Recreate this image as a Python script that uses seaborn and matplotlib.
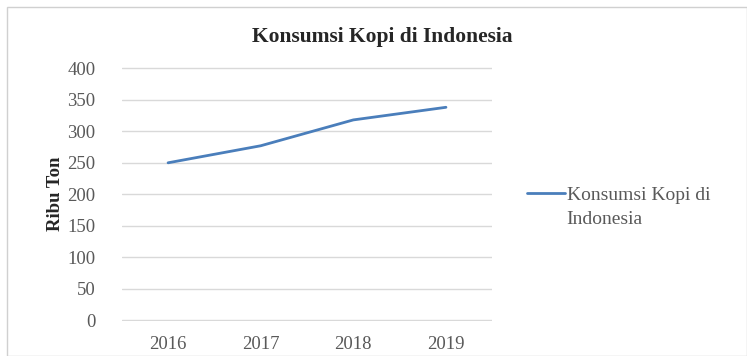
import matplotlib
matplotlib.use("Agg")
import matplotlib.pyplot as plt
import seaborn as sns
import pandas as pd
from matplotlib.patches import Rectangle

years = ["2016", "2017", "2018", "2019"]
values = [250, 277, 318, 338]
series_name = "Konsumsi Kopi di Indonesia"
yticks = [0, 50, 100, 150, 200, 250, 300, 350, 400]

sns.set_style("white")
plt.rcParams['font.family'] = ['Liberation Serif', 'DejaVu Serif']

df = pd.DataFrame({"Tahun": years, "Nilai": values})

fig = plt.figure(figsize=(7.47, 3.56), dpi=100)
ax = fig.add_axes([0.163, 0.098, 0.496, 0.714])

sns.lineplot(data=df, x="Tahun", y="Nilai", ax=ax, color="#4a7ebb",
             linewidth=2, label="Konsumsi Kopi di", sort=False)

ax.set_xlim(-0.5, 3.5)
ax.set_ylim(-1, 402)
ax.set_yticks(yticks)
ax.yaxis.grid(True, color="#d9d9d9", linewidth=1)
ax.set_axisbelow(True)
for s in ax.spines.values():
    s.set_visible(False)
ax.tick_params(axis="x", length=0, labelsize=13.5, labelcolor="#595959", pad=11)
ax.tick_params(axis="y", length=0, labelsize=13.5, labelcolor="#595959", pad=19)
ax.set_xlabel("")
ax.set_ylabel("Ribu Ton", fontsize=13.5, fontweight="bold", labelpad=2)

fig.text(0.512, 0.896, series_name, ha="center", va="center",
         fontsize=15.5, fontweight="bold")

leg = fig.legend(*ax.get_legend_handles_labels(), loc="center left",
                 bbox_to_anchor=(527 / 747, 1 - 195 / 356), frameon=False,
                 fontsize=14, handlelength=1.95, handletextpad=0.1, borderpad=0,
                 borderaxespad=0)
ax.get_legend().remove()
for t in leg.get_texts():
    t.set_color("#595959")
fig.text(566 / 747, 1 - 220 / 356, "Indonesia", ha="left", va="center",
         fontsize=14, color="#595959")

fig.patches.append(Rectangle((7/747, 0), 739.5/747, 349/356, transform=fig.transFigure,
                             fill=False, edgecolor="#d0d0d0", linewidth=1))

fig.savefig("out.png", dpi=100)
